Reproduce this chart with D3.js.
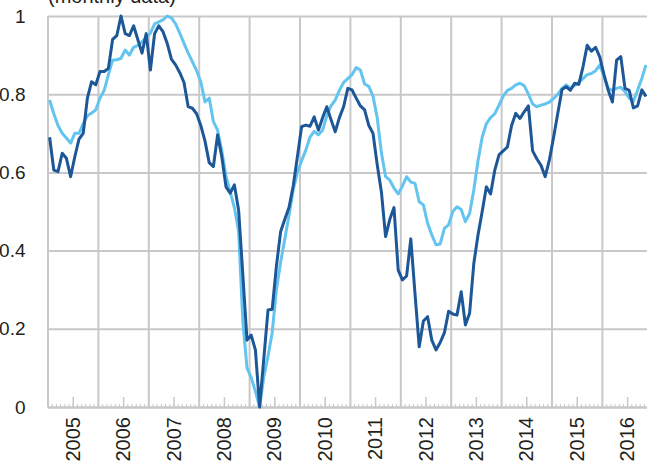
<!DOCTYPE html>
<html>
<head>
<meta charset="utf-8">
<script src="https://cdn.jsdelivr.net/npm/d3@7"></script>
<style>
  html, body { margin: 0; padding: 0; background: #fff; }
  svg { display: block; }
  text { font-family: "Liberation Sans", Arial, sans-serif; fill: #231f20; }
</style>
</head>
<body>
<svg id="chart" width="647" height="464"></svg>
<script>
// Monthly data, January 2005 onward
const startYear = 2005;
const years = ["2005","2006","2007","2008","2009","2010","2011","2012","2013","2014","2015","2016"];
const yTicks = [0, 0.2, 0.4, 0.6, 0.8, 1];
const yTickLabels = ["0", "0.2", "0.4", "0.6", "0.8", "1"];
const title = "(monthly data)";

const seriesDark = [
  0.69, 0.606, 0.602, 0.649, 0.636, 0.589, 0.64, 0.685, 0.70, 0.79, 0.832, 0.824,
  0.858, 0.858, 0.866, 0.94, 0.95, 1.0, 0.955, 0.95, 0.975, 0.94, 0.905, 0.955,
  0.862, 0.955, 0.975, 0.96, 0.93, 0.89, 0.875, 0.855, 0.83, 0.768, 0.764, 0.75,
  0.72, 0.68, 0.625, 0.615, 0.696, 0.64, 0.563, 0.547, 0.568, 0.504, 0.34, 0.171,
  0.184, 0.146, 0.0, 0.124, 0.248, 0.25, 0.36, 0.448, 0.48, 0.51, 0.565, 0.64,
  0.717, 0.721, 0.718, 0.742, 0.708, 0.74, 0.768, 0.735, 0.704, 0.74, 0.768, 0.815,
  0.811, 0.79, 0.77, 0.76, 0.72, 0.70, 0.62, 0.55, 0.436, 0.48, 0.51, 0.35,
  0.325, 0.335, 0.43, 0.29, 0.154, 0.22, 0.231, 0.171, 0.146, 0.165, 0.19, 0.245,
  0.238, 0.235, 0.295, 0.21, 0.24, 0.367, 0.44, 0.50, 0.563, 0.545, 0.606, 0.645,
  0.655, 0.665, 0.72, 0.751, 0.738, 0.755, 0.77, 0.655, 0.635, 0.618, 0.589, 0.632,
  0.69, 0.751, 0.812, 0.819, 0.81, 0.828, 0.825, 0.87, 0.925, 0.91, 0.92, 0.895,
  0.85, 0.81, 0.78, 0.887, 0.896, 0.815, 0.81, 0.765, 0.77, 0.811, 0.794
];

const seriesLight = [
  0.785, 0.75, 0.72, 0.70, 0.688, 0.675, 0.70, 0.70, 0.725, 0.745, 0.752, 0.76,
  0.79, 0.81, 0.85, 0.887, 0.888, 0.892, 0.913, 0.90, 0.92, 0.925, 0.934, 0.945,
  0.956, 0.98, 0.985, 0.99, 1.0, 0.995, 0.98, 0.956, 0.93, 0.905, 0.883, 0.86,
  0.832, 0.78, 0.79, 0.73, 0.708, 0.655, 0.59, 0.55, 0.51, 0.45, 0.22, 0.10,
  0.075, 0.04, 0.0, 0.077, 0.13, 0.19, 0.30, 0.37, 0.43, 0.49, 0.555, 0.60,
  0.63, 0.657, 0.69, 0.705, 0.696, 0.708, 0.745, 0.77, 0.785, 0.81, 0.83, 0.84,
  0.85, 0.868, 0.862, 0.826, 0.82, 0.795, 0.74, 0.65, 0.589, 0.58, 0.56, 0.545,
  0.565, 0.589, 0.575, 0.572, 0.525, 0.517, 0.47, 0.44, 0.415, 0.417, 0.457, 0.466,
  0.50, 0.512, 0.505, 0.474, 0.495, 0.555, 0.63, 0.69, 0.725, 0.74, 0.75, 0.772,
  0.795, 0.81, 0.815, 0.824, 0.828, 0.822, 0.80, 0.775, 0.768, 0.772, 0.775, 0.78,
  0.789, 0.80, 0.815, 0.824, 0.815, 0.822, 0.83, 0.84, 0.85, 0.853, 0.86, 0.875,
  0.845, 0.815, 0.81, 0.815, 0.818, 0.806, 0.79, 0.782, 0.81, 0.84, 0.875
];

const colorDark = "#1d5797";
const colorLight = "#62c4ef";
const gridColor = "#c8c8ca";

const svg = d3.select("#chart");
const plotLeft = 47.5, plotRight = 652.3, plotTop = 16, plotBottom = 407;
const nMonths = years.length * 12;

const x = d3.scaleLinear().domain([0, nMonths]).range([plotLeft, plotRight]);
const y = d3.scaleLinear().domain([0, 1]).range([plotBottom, plotTop]);

// Title (partially cut off at the top)
svg.append("text")
  .attr("x", 48).attr("y", 3)
  .attr("font-size", 20)
  .text(title);

// Horizontal gridlines + y labels
const yAxis = d3.axisLeft(y)
  .tickValues(yTicks)
  .tickFormat((d, i) => yTickLabels[i])
  .tickSize(-(647 - plotLeft))
  .tickPadding(22);
const gy = svg.append("g").attr("transform", `translate(${plotLeft},0)`).call(yAxis);
gy.select(".domain").remove();
gy.selectAll(".tick line").attr("stroke", gridColor).attr("stroke-width", 2);
gy.selectAll(".tick text").attr("font-size", 19).attr("fill", "#231f20")
  .attr("font-family", "Liberation Sans, Arial, sans-serif");

// Vertical year gridlines
const yearBounds = d3.range(0, nMonths + 1, 12);
const gx = svg.append("g").attr("transform", `translate(0,${plotBottom})`)
  .call(d3.axisTop(x).tickValues(yearBounds).tickSize(plotBottom - plotTop).tickFormat(""));
gx.select(".domain").remove();
gx.selectAll(".tick line").attr("stroke", gridColor).attr("stroke-width", 2);

// Monthly minor ticks
const gm = svg.append("g").attr("transform", `translate(0,${plotBottom})`)
  .call(d3.axisTop(x).tickValues(d3.range(0, nMonths + 1, 1)).tickSize(3).tickSizeOuter(0).tickFormat(""));
gm.select(".domain").attr("stroke", gridColor).attr("stroke-width", 2);
gm.selectAll(".tick line").attr("stroke", gridColor).attr("stroke-width", 1);

// Mid-year ticks
const gh = svg.append("g").attr("transform", `translate(0,${plotBottom})`)
  .call(d3.axisTop(x).tickValues(d3.range(6, nMonths, 12)).tickSize(10).tickFormat(""));
gh.select(".domain").remove();
gh.selectAll(".tick line").attr("stroke", gridColor).attr("stroke-width", 1.5);

// Year labels (rotated)
svg.append("g").selectAll("text")
  .data(years)
  .join("text")
  .attr("transform", (d, i) => `translate(${x(i * 12 + 6) + 7},${plotBottom + 10}) rotate(-90)`)
  .attr("text-anchor", "end")
  .attr("font-size", 20)
  .text(d => d);

// Lines
const line = d3.line()
  .x((d, i) => x(i + 0.5))
  .y(d => y(d));

svg.append("path")
  .datum(seriesLight)
  .attr("fill", "none")
  .attr("stroke", colorLight)
  .attr("stroke-width", 3)
  .attr("stroke-linejoin", "round")
  .attr("d", line);

svg.append("path")
  .datum(seriesDark)
  .attr("fill", "none")
  .attr("stroke", colorDark)
  .attr("stroke-width", 3)
  .attr("stroke-linejoin", "round")
  .attr("d", line);
</script>
</body>
</html>
